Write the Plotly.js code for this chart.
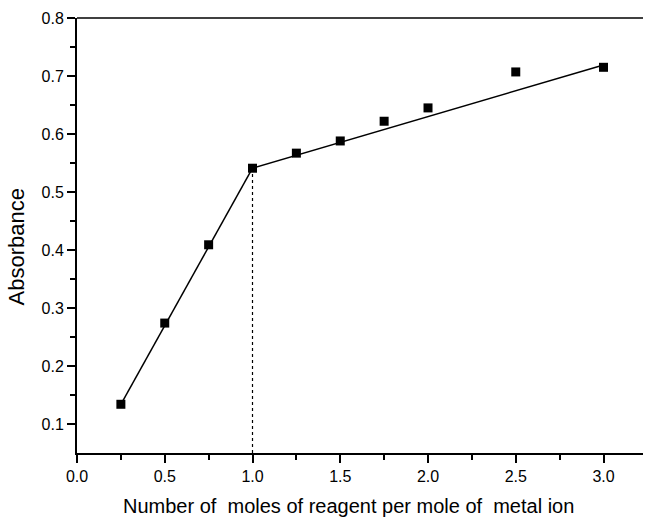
<!DOCTYPE html>
<html>
<head>
<meta charset="utf-8">
<script src="https://cdn.plot.ly/plotly-3.0.1.min.js"></script>
<style>html,body{margin:0;padding:0;background:#fff;}#chart{width:645px;height:517px;}</style>
</head>
<body>
<div id="chart"></div>
<script>
const moleRatio = [0.25, 0.5, 0.75, 1.0, 1.25, 1.5, 1.75, 2.0, 2.5, 3.0];
const absorbance = [0.134, 0.274, 0.409, 0.541, 0.567, 0.588, 0.622, 0.645, 0.707, 0.715];
const fit1X = [0.25, 1.0];
const fit1Y = [0.134, 0.541];
const fit2X = [1.0, 3.0];
const fit2Y = [0.541, 0.719];
const dropX = [1.0, 1.0];
const dropY = [0.05, 0.541];
const xTitle = 'Number of\u00a0 moles of reagent per mole of\u00a0 metal ion';
const yTitle = 'Absorbance';

const traces = [
  {x: fit1X, y: fit1Y, mode: 'lines', line: {color: '#000', width: 1.5}, hoverinfo: 'skip'},
  {x: fit2X, y: fit2Y, mode: 'lines', line: {color: '#000', width: 1.5}, hoverinfo: 'skip'},
  {x: dropX, y: dropY, mode: 'lines', line: {color: '#000', width: 1.2, dash: 'dot'}, hoverinfo: 'skip'},
  {x: moleRatio, y: absorbance, mode: 'markers', marker: {symbol: 'square', size: 9, color: '#000'}}
];

const fam = '"Liberation Sans", Arial, sans-serif';

const layout = {
  width: 645, height: 517,
  margin: {l: 77, r: 2, t: 18, b: 64},
  showlegend: false,
  paper_bgcolor: '#fff', plot_bgcolor: '#fff',
  font: {family: fam, color: '#000'},
  xaxis: {
    range: [0, 3.225], tickvals: [0, 0.5, 1.0, 1.5, 2.0, 2.5, 3.0],
    ticktext: ['0.0', '0.5', '1.0', '1.5', '2.0', '2.5', '3.0'],
    ticks: 'outside', ticklen: 8, tickwidth: 2, tickcolor: '#000',
    minor: {tickvals: [0.25, 0.75, 1.25, 1.75, 2.25, 2.75], ticks: 'outside', ticklen: 5, tickwidth: 2, tickcolor: '#000'},
    showline: true, linewidth: 2, linecolor: '#000', mirror: false,
    showgrid: false, zeroline: false,
    tickfont: {size: 16, family: fam}
  },
  yaxis: {
    range: [0.05, 0.8], tickvals: [0.1, 0.2, 0.3, 0.4, 0.5, 0.6, 0.7, 0.8],
    ticktext: ['0.1', '0.2', '0.3', '0.4', '0.5', '0.6', '0.7', '0.8'],
    ticks: 'outside', ticklen: 8, tickwidth: 2, tickcolor: '#000',
    minor: {tickvals: [0.15, 0.25, 0.35, 0.45, 0.55, 0.65, 0.75], ticks: 'outside', ticklen: 5, tickwidth: 2, tickcolor: '#000'},
    showline: true, linewidth: 2, linecolor: '#000',
    showgrid: false, zeroline: false,
    tickfont: {size: 16, family: fam}
  },
  annotations: [
    {text: xTitle, xref: 'paper', yref: 'paper', x: 0.4788, y: -0.1218, xanchor: 'center', yanchor: 'middle', showarrow: false, font: {size: 20, family: fam, color: '#000'}},
    {text: yTitle, xref: 'paper', yref: 'paper', x: -0.106, y: 0.4724, xanchor: 'center', yanchor: 'middle', textangle: -90, showarrow: false, font: {size: 22, family: fam, color: '#000'}}
  ],
  shapes: [
    {type: 'line', xref: 'paper', yref: 'paper', x0: 0, x1: 1, y0: 1, y1: 1, line: {color: '#000', width: 1.5}}
  ]
};

Plotly.newPlot('chart', traces, layout, {staticPlot: true, displayModeBar: false});
</script>
</body>
</html>
